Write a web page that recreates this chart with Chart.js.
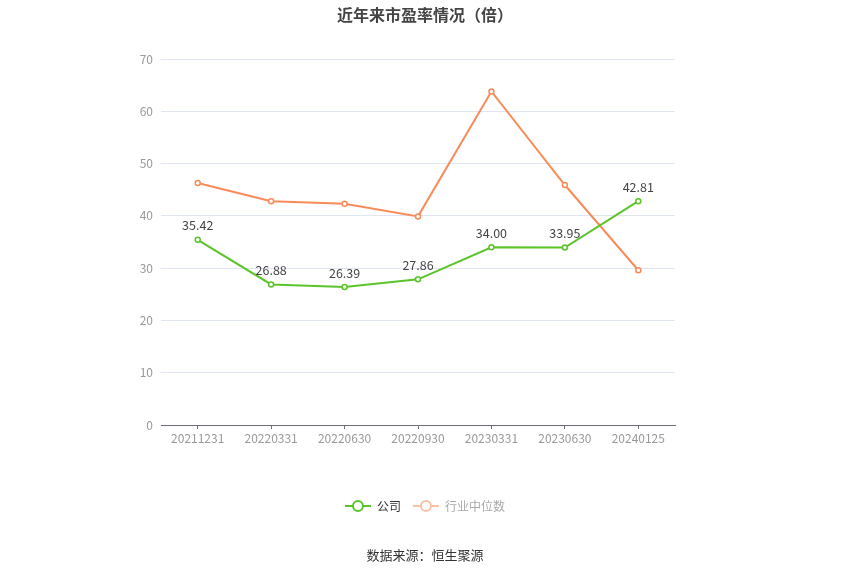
<!DOCTYPE html>
<html>
<head>
<meta charset="utf-8">
<script src="https://cdn.jsdelivr.net/npm/chart.js@4.4.1/dist/chart.umd.min.js"></script>
<style>
  html, body { margin: 0; padding: 0; background: #fff; }
  #wrap { position: relative; width: 850px; height: 574px; }
  #title {
    position: absolute; left: 0; top: 2px; width: 850px; text-align: center;
    font: bold 16px "Noto Sans CJK SC", sans-serif; color: #444;
  }
  #source {
    position: absolute; left: 0; top: 545px; width: 850px; text-align: center;
    font: 13px "Noto Sans CJK SC", sans-serif; color: #333;
  }
  canvas { position: absolute; left: 0; top: 0; }
</style>
</head>
<body>
<div id="wrap">
  <canvas id="chart" width="850" height="574"></canvas>
  <div id="title">近年来市盈率情况（倍）</div>
  <div id="source">数据来源：恒生聚源</div>
</div>
<script>
// 数据
const categories = ['20211231', '20220331', '20220630', '20220930', '20230331', '20230630', '20240125'];
const companyPE = [35.42, 26.88, 26.39, 27.86, 34.00, 33.95, 42.81];
const industryPE = [46.3, 42.8, 42.3, 39.9, 63.8, 45.9, 29.6];
const yTicks = [0, 10, 20, 30, 40, 50, 60, 70];

const GREEN = '#5ac42a';
const ORANGE = '#f98b5a';
const FONT = '"Noto Sans CJK SC", sans-serif';

// Иконка легенды: линия с кружком
function legendIcon(color) {
  const c = document.createElement('canvas');
  c.width = 26; c.height = 14;
  const g = c.getContext('2d');
  g.strokeStyle = color;
  g.lineWidth = 2;
  g.beginPath(); g.moveTo(0, 7); g.lineTo(26, 7); g.stroke();
  g.fillStyle = '#fff';
  g.beginPath(); g.arc(13, 7, 5, 0, Math.PI * 2); g.fill(); g.stroke();
  return c;
}

// Подписи значений над точками компании
const valueLabels = {
  id: 'valueLabels',
  afterDatasetsDraw(chart) {
    const ctx = chart.ctx;
    const meta = chart.getDatasetMeta(0);
    ctx.save();
    ctx.font = '12.5px ' + FONT;
    ctx.fillStyle = '#444';
    ctx.textAlign = 'center';
    ctx.textBaseline = 'bottom';
    meta.data.forEach((pt, i) => {
      ctx.fillText(companyPE[i].toFixed(2), pt.x, pt.y - 8);
    });
    ctx.restore();
  }
};

new Chart(document.getElementById('chart'), {
  type: 'line',
  data: {
    labels: categories,
    datasets: [
      {
        label: '公司',
        data: companyPE,
        borderColor: GREEN,
        backgroundColor: '#fff',
        borderWidth: 2,
        pointRadius: 2.5,
        pointBorderWidth: 1.5,
        pointBackgroundColor: '#fff',
        pointBorderColor: GREEN,
        tension: 0
      },
      {
        label: '行业中位数',
        data: industryPE,
        borderColor: ORANGE,
        backgroundColor: '#fff',
        borderWidth: 2,
        pointRadius: 2.5,
        pointBorderWidth: 1.5,
        pointBackgroundColor: '#fff',
        pointBorderColor: ORANGE,
        tension: 0
      }
    ]
  },
  options: {
    responsive: false,
    animation: false,
    devicePixelRatio: 1,
    layout: { padding: { top: 59, right: 0, bottom: 52, left: 0 } },
    plugins: {
      title: { display: false },
      tooltip: { enabled: false },
      legend: {
        position: 'bottom',
        labels: {
          usePointStyle: true,
          pointStyleWidth: 26,
          boxHeight: 14,
          padding: 12,
          font: { family: FONT, size: 12 },
          generateLabels(chart) {
            return [
              { text: '公司', pointStyle: legendIcon(GREEN), fontColor: '#333', datasetIndex: 0, hidden: false, lineWidth: 0, strokeStyle: 'transparent', fillStyle: 'transparent' },
              { text: '行业中位数', pointStyle: legendIcon('#fcc0a5'), fontColor: '#aaa', datasetIndex: 1, hidden: false, lineWidth: 0, strokeStyle: 'transparent', fillStyle: 'transparent' }
            ];
          }
        }
      }
    },
    scales: {
      x: {
        offset: true,
        grid: {
          display: true,
          drawOnChartArea: false,
          drawTicks: true,
          tickLength: 4,
          offset: false,
          color: '#6e7079'
        },
        border: { display: true, color: '#6e7079', width: 1 },
        ticks: { color: '#999', font: { family: FONT, size: 12 }, padding: 2, maxRotation: 0, autoSkip: false },
        afterFit(scale) { scale.height = 63; }
      },
      y: {
        min: 0,
        max: 70,
        afterBuildTicks(scale) { scale.ticks = yTicks.map(v => ({ value: v })); },
        grid: { color: '#e0e6f1', drawTicks: false },
        border: { display: false },
        ticks: { color: '#999', font: { family: FONT, size: 12 }, padding: 8 },
        afterFit(scale) { scale.width = 161; }
      },
      // пустая правая ось — резервирует место справа
      yRight: {
        position: 'right',
        min: 0,
        max: 70,
        grid: { display: false },
        border: { display: false },
        ticks: { display: false },
        afterFit(scale) { scale.width = 175; }
      }
    }
  },
  plugins: [valueLabels]
});
</script>
</body>
</html>
